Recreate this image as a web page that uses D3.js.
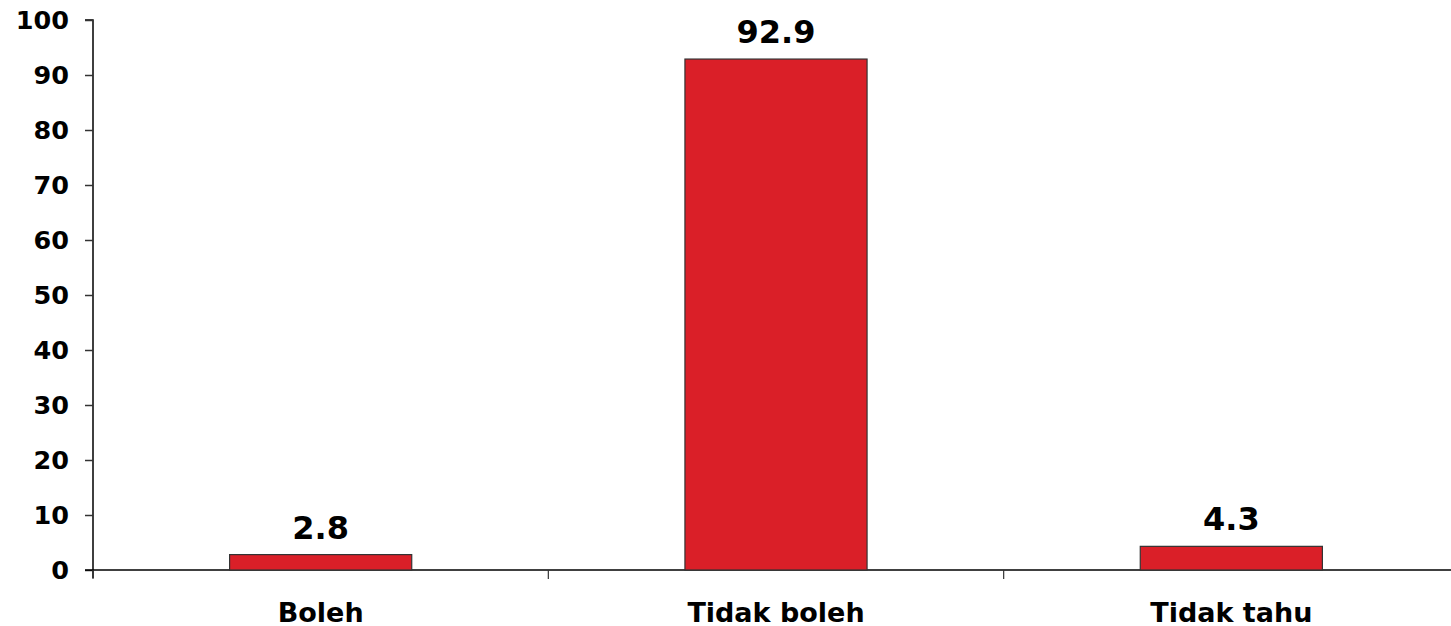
<!DOCTYPE html>
<html><head><meta charset="utf-8">
<script src="https://cdn.jsdelivr.net/npm/d3@7"></script>
<style>body{margin:0;background:#fff}svg{display:block}text{font-family:"DejaVu Sans",Verdana,sans-serif;font-weight:bold}</style>
</head><body>
<svg id="c" width="1451" height="626"></svg>
<script>
const categories = ["Boleh", "Tidak boleh", "Tidak tahu"];
const values = [2.8, 92.9, 4.3];
const yTicks = [0,10,20,30,40,50,60,70,80,90,100];

(function () {
const svg = d3.select("#c");
const mLeft = 93, mRight = 1459, mTop = 20, mBottom = 570;
const x = d3.scaleBand().domain(categories).range([mLeft, mRight]).paddingInner(0.6).paddingOuter(0.3);
const y = d3.scaleLinear().domain([0, 100]).range([mBottom, mTop]);

// y axis
const ya = svg.append("g").attr("transform", `translate(${mLeft},0)`)
  .call(d3.axisLeft(y).tickValues(yTicks).tickSize(8).tickPadding(16));
ya.select(".domain").attr("stroke", "#000").attr("stroke-width", 1.5).attr("d", `M-8,${mTop}H0V${mBottom + 8}`);
ya.selectAll(".tick line").attr("stroke", "#333").attr("stroke-width", 1.5);
ya.selectAll(".tick text").attr("font-size", 25.5).attr("fill", "#000");

// x axis line
svg.append("line").attr("x1", mLeft - 8).attr("x2", 1451).attr("y1", mBottom).attr("y2", mBottom)
  .attr("stroke", "#000").attr("stroke-width", 1.5);
const step = x.step();
const bounds = categories.map(c => x(c) - x.paddingOuter() * step).concat([mRight]);
svg.selectAll(".xt").data(bounds).join("line").attr("class", "xt")
  .attr("x1", d => d).attr("x2", d => d).attr("y1", mBottom).attr("y2", mBottom + 9)
  .attr("stroke", "#333").attr("stroke-width", 1.2);

svg.selectAll(".cat").data(categories).join("text").attr("class", "cat")
  .attr("x", d => x(d) + x.bandwidth() / 2).attr("y", 622)
  .attr("text-anchor", "middle").attr("font-size", 27).attr("fill", "#000").text(d => d);

// bars
svg.selectAll(".bar").data(values).join("rect").attr("class", "bar")
  .attr("x", (d, i) => x(categories[i])).attr("width", x.bandwidth())
  .attr("y", d => y(d)).attr("height", d => y(0) - y(d))
  .attr("fill", "#DA1F28").attr("stroke", "#333").attr("stroke-width", 1.2);

svg.selectAll(".val").data(values).join("text").attr("class", "val")
  .attr("x", (d, i) => x(categories[i]) + x.bandwidth() / 2).attr("y", d => y(d) - 16)
  .attr("text-anchor", "middle").attr("font-size", 32).attr("fill", "#000").text(d => d.toFixed(1));
})();
</script>
</body></html>
